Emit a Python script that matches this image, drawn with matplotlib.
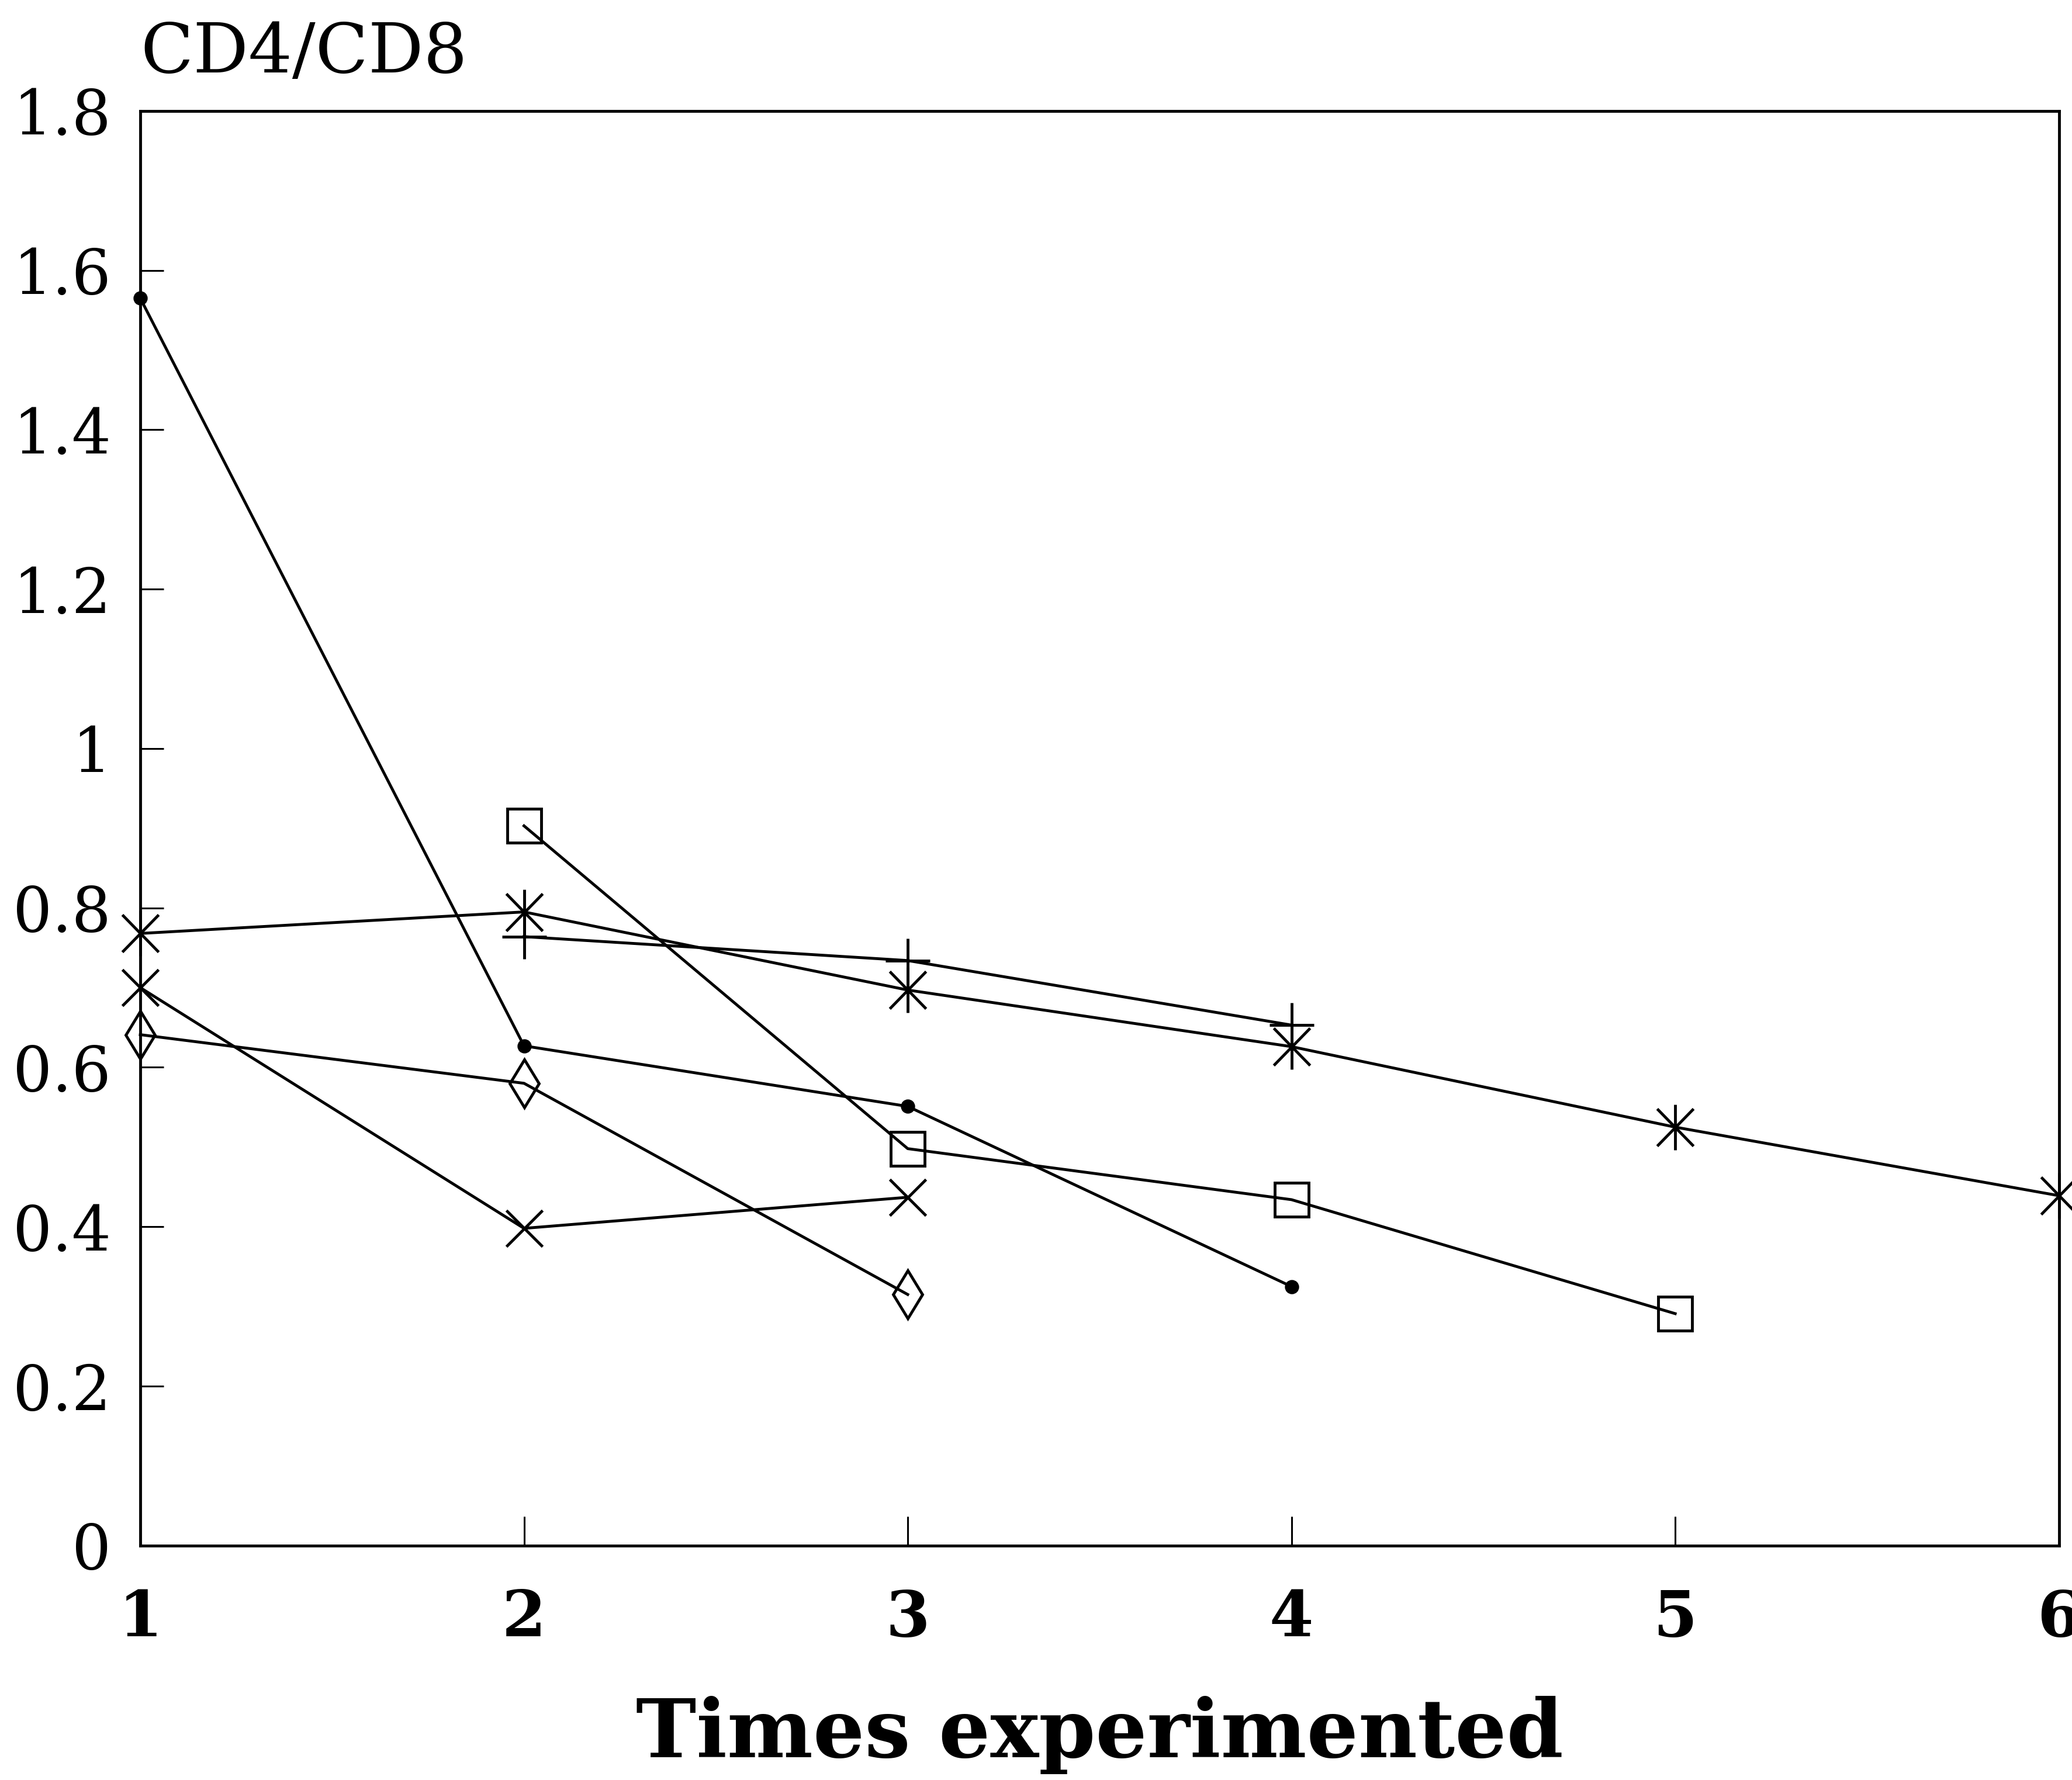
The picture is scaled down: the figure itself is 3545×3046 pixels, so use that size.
import matplotlib
matplotlib.use("Agg")
import matplotlib.pyplot as plt
from matplotlib.path import Path

# Données (rapport CD4/CD8)
x_dot = [1, 2, 3, 4]
y_dot = [1.565, 0.627, 0.551, 0.325]

x_square = [2, 3, 4, 5]
y_square = [0.903, 0.498, 0.434, 0.291]

x_star = [1, 2, 3, 4, 5, 6]
y_star = [0.768, 0.795, 0.697, 0.626, 0.525, 0.439]

x_plus = [2, 3, 4]
y_plus = [0.764, 0.734, 0.653]

x_cross = [1, 2, 3]
y_cross = [0.700, 0.398, 0.437]

x_diamond = [1, 2, 3]
y_diamond = [0.641, 0.580, 0.315]

xticks = [1, 2, 3, 4, 5, 6]
yticks = [0, 0.2, 0.4, 0.6, 0.8, 1.0, 1.2, 1.4, 1.6, 1.8]
ytick_labels = ["0", "0.2", "0.4", "0.6", "0.8", "1", "1.2", "1.4", "1.6", "1.8"]

plt.rcParams['font.family'] = ['DejaVu Serif']

# astérisque à 6 branches (verticale + X)
asterisk = Path(
    [(0, -1), (0, 1), (-0.8, -0.82), (0.8, 0.82), (-0.8, 0.82), (0.8, -0.82)],
    [Path.MOVETO, Path.LINETO, Path.MOVETO, Path.LINETO, Path.MOVETO, Path.LINETO])

fig = plt.figure(figsize=(35.45, 30.46), dpi=100)
ax = fig.add_axes([0.0677, 0.1317, 0.926, 0.806])

lw = 3.5
common = dict(color="black", lw=lw, mew=lw, clip_on=False)
ax.plot(x_dot, y_dot, marker="o", ms=14, **common)
ax.plot(x_square, y_square, marker="s", ms=42, mfc="none", **common)
ax.plot(x_star, y_star, marker=asterisk, ms=56, **common)
ax.plot(x_plus, y_plus, marker="+", ms=55, **common)
ax.plot(x_cross, y_cross, marker="x", ms=44, **common)
ax.plot(x_diamond, y_diamond, marker="d", ms=42, mfc="none", **common)

ax.set_xlim(1, 6)
ax.set_ylim(0, 1.8)
ax.set_xticks(xticks)
ax.set_xticklabels([str(v) for v in xticks])
ax.set_yticks(yticks)
ax.set_yticklabels(ytick_labels)

for s in ax.spines.values():
    s.set_linewidth(3.5)

ax.tick_params(axis="x", direction="in", length=36, width=2.2, pad=52,
               labelsize=78)
ax.tick_params(axis="y", direction="in", length=29, width=2.2, pad=36,
               labelsize=76)
for lab in ax.get_xticklabels():
    lab.set_fontweight("bold")

ax.set_ylabel("CD4/CD8", rotation=0, ha="left", va="center", fontsize=85)
ax.yaxis.set_label_coords(0.0, 1.040)

ax.set_xlabel("Times experimented", fontsize=100, fontweight="bold", va="center")
ax.xaxis.set_label_coords(0.5, -0.132)

fig.savefig("out.png", dpi=100, facecolor="white")
